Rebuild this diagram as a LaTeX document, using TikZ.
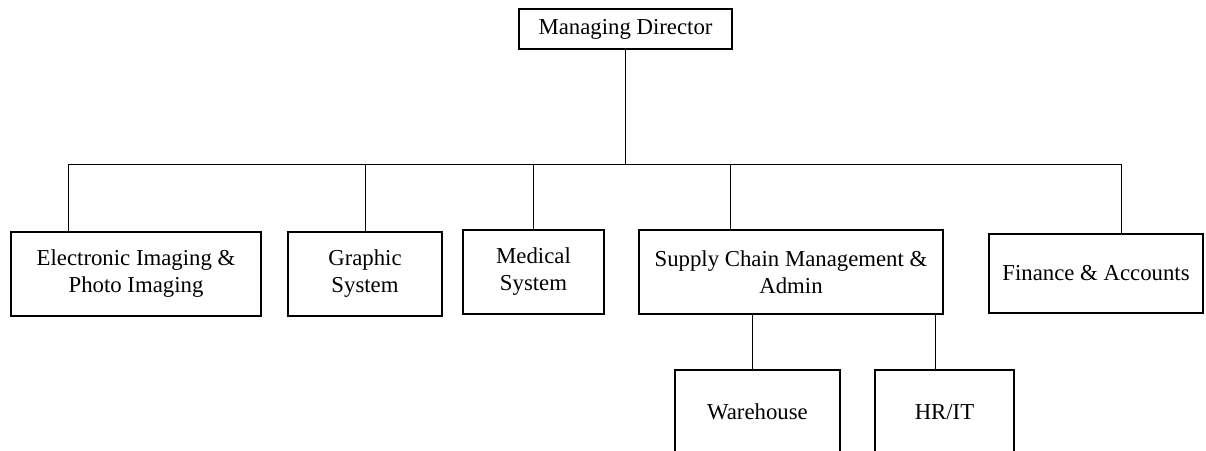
\documentclass[tikz,border=0pt]{standalone}
\usepackage{fontspec}
\setmainfont{Liberation Serif}
\usepackage{tikz}

\begin{document}
\begin{tikzpicture}[x=0.025cm, y=-0.025cm,
    unit/.style={draw, line width=1.1pt, inner sep=0pt, align=center,
      font=\fontsize{16.2}{19.2}\selectfont},
    link/.style={line width=0.7pt}]
  \useasboundingbox (0,0) rectangle (1206,450);
  % Top
  \node[unit, minimum width=5.33cm, minimum height=1cm] (md) at (625.5,29) {Managing Director};
  % Departments
  \node[unit, minimum width=6.25cm, minimum height=2.1cm] (img) at (136,274) {Electronic Imaging \&\\Photo Imaging};
  \node[unit, minimum width=3.85cm, minimum height=2.1cm] (gra) at (365,274) {Graphic\\System};
  \node[unit, minimum width=3.53cm, minimum height=2.1cm] (med) at (533.5,272) {Medical\\System};
  \node[unit, minimum width=7.6cm, minimum height=2.1cm] (scm) at (791,272) {Supply Chain Management \&\\Admin};
  \node[unit, minimum width=5.35cm, minimum height=1.98cm] (fin) at (1096,273.5) {Finance \& Accounts};
  % Under supply chain
  \node[unit, minimum width=4.13cm, minimum height=2.1cm] (wh) at (757.5,412) {Warehouse};
  \node[unit, minimum width=3.48cm, minimum height=2.1cm] (hr) at (944.5,412) {HR/IT};

  % Connectors
  \coordinate (busL) at (68,164);
  \coordinate (busR) at (1121,164);
  \coordinate (scmTap) at (730,164);
  \coordinate (whTap) at (752,314);
  \coordinate (hrTap) at (935,314);
  \draw[link] (md.south) -- (md.south |- busL);
  \draw[link] (busL) -- (busR);
  \draw[link] (busL) -- (busL |- img.north);
  \draw[link] (gra.north) -- (gra.north |- busL);
  \draw[link] (med.north) -- (med.north |- busL);
  \draw[link] (scmTap) -- (scmTap |- scm.north);
  \draw[link] (busR) -- (busR |- fin.north);
  \draw[link] (whTap) -- (whTap |- wh.north);
  \draw[link] (hrTap) -- (hrTap |- hr.north);
\end{tikzpicture}
\end{document}
